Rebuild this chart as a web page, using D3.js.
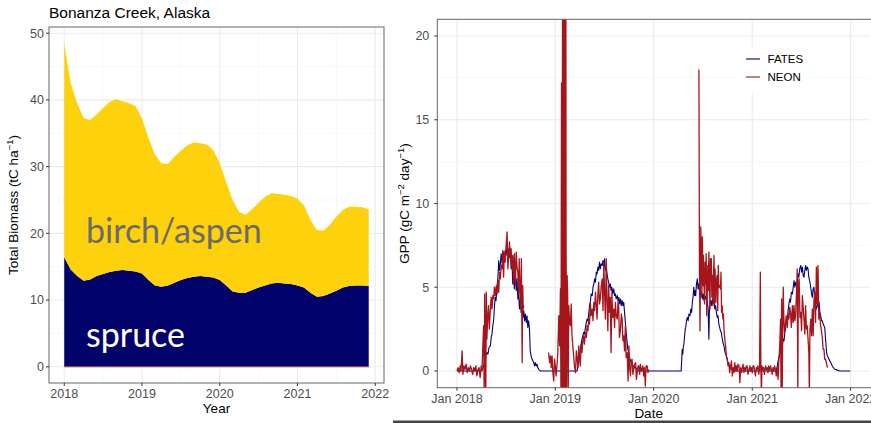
<!DOCTYPE html>
<html>
<head>
<meta charset="utf-8">
<script src="https://cdn.jsdelivr.net/npm/d3@7"></script>
<style>
  body { margin: 0; background: #fff; }
  svg { display: block; font-family: "Liberation Sans", Arial, sans-serif; }
  .grid-major { stroke: #ebebeb; stroke-width: 1.1; }
  .grid-minor { stroke: #f3f3f3; stroke-width: 0.6; }
  .tick-label { fill: #4d4d4d; font-size: 12.5px; }
</style>
</head>
<body>
<svg width="871" height="423"></svg>
<script>
// ---- left panel: monthly biomass, Jan 2018 .. Dec 2021 (tC/ha) ----
const spruceBiomass = [16.4,14.6,13.6,12.9,13.1,13.6,13.9,14.2,14.4,14.5,14.4,14.3,
  14.0,13.0,12.2,12.0,12.2,12.6,13.0,13.3,13.5,13.6,13.5,13.4,
  13.0,12.2,11.3,11.1,11.1,11.5,11.9,12.2,12.5,12.6,12.5,12.4,
  12.2,11.9,11.1,10.5,10.6,11.0,11.4,11.9,12.1,12.2,12.2,12.1];
const birchBiomass = [32.1,27.9,25.9,24.4,23.9,24.2,24.9,25.5,25.7,25.3,25.1,24.8,
  23.2,21.3,19.6,18.5,18.2,18.9,19.4,19.9,20.1,19.9,19.8,19.1,
  17.5,15.5,13.7,12.1,11.7,12.1,12.7,13.3,13.5,13.3,13.3,13.2,
  13.0,12.3,10.9,10.0,9.8,10.3,11.1,11.6,11.9,11.8,11.7,11.5];
const biomassYearTicks = [2018, 2019, 2020, 2021, 2022];
const biomassValueTicks = [0, 10, 20, 30, 40, 50];
const biomassLabels = [
  { text: "birch/aspen", year: 2018.28, value: 18.5, color: "#6b6b6b" },
  { text: "spruce", year: 2018.28, value: 3.0, color: "#ffffff" }
];

// ---- right panel: daily GPP, [day since 2018-01-01, gC m-2 day-1] ----
const fatesGPP = [[0,0],[90,0],[95,0.1],[99,0.3],[103,0.6],[107,0.9],[111,1.1],[115,1.0],[119,1.4],[124,1.5],
  [127,2.0],[130,2.2],[133,2.7],[136,3.0],[139,3.8],[142,4.4],[145,4.2],[149,5.1],[152,5.6],[155,6.6],[158,6.0],
  [161,6.4],[164,7.0],[167,6.5],[170,6.8],[173,7.1],[176,6.6],[179,7.2],[182,6.9],[186,7.4],[189,6.6],[192,7.3],
  [195,6.8],[198,7.2],[201,6.1],[204,6.6],[207,5.2],[210,6.0],[213,4.9],[217,5.8],[220,4.8],[223,5.5],[226,4.3],
  [229,4.6],[232,3.7],[235,4.3],[238,3.5],[242,4.0],[245,3.2],[248,3.6],[251,3.0],[254,3.4],[257,2.9],[260,3.3],
  [263,2.6],[266,3.0],[269,2.5],[272,1.2],[275,0.9],[279,0.7],[282,0.6],[285,0.5],[288,0.3],[291,0.5],[294,0.3],
  [297,0.4],[300,0.2],[303,0.1],[306,0.05],[310,0],
  [446,0],[449,0.3],[452,0.6],[455,0.9],[458,1.3],[461,1.6],[464,1.9],[467,2.1],[470,2.3],[473,2.2],[477,2.6],
  [480,2.9],[483,3.1],[486,3.0],[489,3.4],[492,3.9],[495,4.1],[498,4.6],[502,4.5],[505,5.0],[508,5.2],[511,5.5],
  [514,5.3],[517,5.9],[520,5.8],[523,6.2],[526,6.0],[529,6.5],[532,6.1],[535,6.4],[539,6.3],[542,6.6],[545,6.2],
  [548,6.7],[551,6.0],[554,6.2],[557,5.8],[560,5.5],[563,5.3],[566,5.0],[569,5.2],[572,4.8],[575,5.0],[578,4.6],
  [582,4.9],[585,4.5],[588,4.6],[591,4.3],[595,4.5],[598,4.2],[601,4.4],[604,4.0],[607,4.3],[610,3.9],[613,4.2],
  [616,3.9],[619,4.1],[622,3.5],[625,2.9],[628,2.3],[631,1.8],[634,1.3],[638,1.1],[641,0.8],[644,0.6],[647,0.5],
  [650,0.5],[653,0.3],[656,0.3],[660,0.2],[663,0.2],[667,0.1],[671,0.05],[675,0],
  [832,0],[834,0.6],[836,1.3],[838,1.0],[840,1.4],[842,1.6],[845,2.1],[847,2.5],[849,2.6],[852,3.0],[855,3.2],
  [858,3.0],[861,3.4],[865,3.3],[868,3.7],[871,3.5],[873,4.0],[876,4.4],[879,5.0],[882,4.5],[884,4.8],[886,4.5],
  [889,5.2],[892,5.5],[895,4.9],[898,5.2],[901,4.6],[903,4.9],[905,4.4],[908,4.7],[911,4.3],[914,4.6],[917,4.2],
  [920,4.5],[923,4.3],[926,4.5],[929,4.1],[932,3.8],[935,1.9],[937,3.6],[939,4.0],[942,4.2],[945,3.9],[948,4.3],
  [951,4.0],[954,4.3],[957,3.7],[960,3.9],[963,3.5],[966,3.2],[969,3.3],[972,2.8],[975,2.6],[978,2.4],[981,2.3],
  [984,2.0],[987,1.7],[991,1.5],[994,1.2],[997,1.0],[1000,0.9],[1003,0.7],[1006,0.5],[1009,0.4],[1012,0.3],
  [1016,0.2],[1020,0.1],[1027,0],
  [1185,0],[1189,0.3],[1192,0.6],[1195,0.8],[1198,1.0],[1201,1.2],[1205,1.3],[1208,1.6],[1211,1.9],[1214,1.8],
  [1217,2.3],[1220,2.6],[1223,2.9],[1226,3.0],[1229,3.6],[1232,4.0],[1235,4.3],[1238,4.1],[1241,4.7],[1245,4.6],
  [1248,5.0],[1251,5.4],[1254,5.0],[1257,5.3],[1260,5.1],[1263,5.2],[1266,5.8],[1269,5.6],[1272,6.1],[1276,6.3],
  [1279,5.9],[1282,6.2],[1285,5.7],[1288,5.6],[1291,6.0],[1294,6.3],[1297,6.0],[1300,6.2],[1303,6.1],[1306,5.6],
  [1310,5.3],[1313,5.0],[1316,4.6],[1319,4.4],[1322,4.9],[1325,5.0],[1328,4.3],[1331,4.0],[1334,3.7],[1338,3.9],
  [1341,4.2],[1344,4.1],[1347,3.5],[1350,3.3],[1353,3.0],[1356,3.0],[1359,2.8],[1362,2.7],[1365,2.6],[1368,1.9],
  [1372,1.1],[1375,0.9],[1378,0.8],[1381,0.7],[1384,0.6],[1387,0.5],[1390,0.4],[1393,0.3],[1397,0.2],[1402,0.1],
  [1412,0.05],[1420,0],[1460,0]];

const neonGPP = [[0,0.0],[4,0.2],[8,-0.1],[12,0.3],[15,0.0],[19,1.2],[22,-0.2],[26,0.3],[30,0.1],[34,0.4],
  [38,-0.1],[42,0.2],[46,0.0],[50,0.3],[54,0.1],[58,-0.2],[62,0.2],[66,0.0],[70,0.3],[74,-0.3],[78,0.1],[82,0.2],
  [86,-0.4],[90,0.3],[93,0.0],[96,1.5],[99,2.7],[101,-1.5],[103,4.6],[105,0.5],[107,-1.5],[109,4.7],[111,1.9],
  [114,3.2],[117,3.9],[120,2.5],[124,3.7],[127,4.4],[130,3.7],[133,4.5],[136,4.3],[139,5.0],[142,4.5],[146,5.1],
  [149,4.6],[152,5.4],[155,4.7],[158,5.9],[161,5.5],[164,6.3],[167,6.1],[170,7.2],[173,5.6],[176,7.1],[179,6.5],
  [182,7.4],[186,8.3],[189,6.1],[192,6.9],[195,7.7],[198,6.7],[201,7.3],[204,6.1],[207,6.9],[210,5.2],[213,7.0],
  [217,5.1],[220,7.1],[223,6.2],[226,5.9],[229,4.6],[231,6.7],[233,5.5],[235,4.1],[237,3.8],[239,6.7],[242,0.5],
  [244,5.1],[246,3.7],[248,3.9],
  [290,null],
  [340,1.1],[344,0.5],[347,0.9],[350,0.2],[353,0.9],[356,-0.1],[359,-0.6],[362,0.7],[365,0.3],[368,-0.3],[371,0.3],
  [374,1.0],[378,3.3],[381,1.5],[384,4.9],[386,-1.5],[388,17.2],[390,-1.5],[392,25],[394,-2],[396,30],[398,-2],
  [400,24],[402,-1.8],[404,28],[405,7.6],[407,-1.5],[409,5.7],[411,4.4],[413,-1.2],[415,3.9],[418,2.9],[421,2.7],
  [424,4.0],[427,2.1],[430,1.5],[433,0.9],[436,0.3],[440,-0.1],[443,1.2],[446,0.7],[449,0.2],[452,1.5],[455,0.8],
  [458,0.3],[461,1.6],[464,1.1],[467,1.8],[470,2.1],[473,1.6],[477,2.3],[480,2.0],[483,2.7],[486,2.4],[489,3.1],
  [492,2.8],[495,4.1],[498,3.3],[502,3.7],[505,3.0],[508,4.1],[511,3.6],[514,4.7],[517,4.0],[520,3.1],[523,4.6],
  [526,5.3],[529,4.0],[532,4.3],[535,5.0],[539,5.5],[542,3.6],[545,6.5],[548,4.6],[551,3.1],[554,6.7],[557,4.3],
  [560,2.4],[563,5.1],[566,3.5],[569,4.4],[572,1.1],[575,4.7],[578,3.2],[582,3.7],[585,2.6],[588,4.1],[591,3.3],
  [595,3.1],[598,4.2],[600,3.9],[603,2.0],[607,2.5],[610,3.4],[613,3.1],[616,1.8],[619,2.1],[622,1.2],[625,2.7],
  [628,0.8],[632,1.1],[635,-0.6],[638,1.5],[641,0.2],[644,-0.3],[647,0.6],[650,0.7],[653,-0.2],[656,0.1],[659,0.4],
  [663,0.5],[666,-0.5],[669,-0.1],[672,0.3],[675,0.3],[678,-0.2],[681,0.4],[684,0.0],[687,0.1],[690,0.3],
  [693,-0.3],[696,0.2],[699,-0.9],[702,0.3],[706,0.3],[709,-0.1],[712,0.1],
  [800,null],
  [898,18.0],[900,6.1],[902,2.4],[905,8.6],[907,7.1],[909,4.5],[911,8.0],[913,5.1],[915,6.9],[917,5.1],[919,4.0],
  [921,6.5],[923,5.2],[925,7.0],[927,3.3],[929,4.5],[931,6.3],[933,4.8],[935,7.1],[937,5.4],[939,3.7],[941,6.7],
  [944,6.7],[946,4.4],[948,5.7],[950,3.9],[952,5.7],[954,6.9],[956,4.0],[958,6.1],[961,4.1],[963,5.5],[966,5.7],
  [968,3.6],[970,6.3],[972,5.0],[975,5.1],[978,4.9],[980,5.9],[982,3.5],[984,3.9],[987,3.1],[989,3.4],[991,2.5],
  [994,1.9],[997,1.5],[1000,0.9],[1003,0.7],[1006,0.3],[1009,0.5],[1012,-0.1],[1016,0.3],[1019,0.6],[1022,-0.3],
  [1025,0.2],[1028,-0.1],[1031,0.5],[1034,0.0],[1037,0.3],[1040,0.0],[1043,0.4],[1047,0.3],[1050,-0.7],[1053,0.2],
  [1056,-0.1],[1059,0.2],[1062,0.4],[1065,-0.1],[1068,0.2],[1071,0.0],[1074,0.3],[1077,0.3],[1080,-0.2],[1084,0.1],
  [1087,0.3],[1090,0.0],[1093,0.2],[1096,-0.1],[1099,0.3],[1102,0.3],[1105,0.0],[1108,-0.3],[1111,0.2],[1114,0.1],
  [1117,0.3],[1120,-0.2],[1123,0.1],[1126,5.9],[1128,0.2],[1130,-1.5],[1132,0.3],[1135,0.1],[1138,0.2],[1141,-0.2],
  [1145,0.3],[1148,0.1],[1151,0.2],[1154,-0.1],[1157,0.3],[1160,0.0],[1164,0.3],[1167,0.1],[1170,-0.2],[1173,0.2],
  [1176,0.0],[1179,0.3],[1182,0.1],[1185,-0.3],[1189,0.2],[1192,-0.5],[1195,0.7],[1198,1.5],[1201,3.1],[1203,-1.5],
  [1205,4.3],[1207,-1.5],[1209,2.1],[1211,5.0],[1213,3.3],[1216,2.3],[1219,2.7],[1222,3.3],[1226,2.6],[1229,3.4],
  [1232,3.1],[1235,3.8],[1238,3.5],[1241,2.6],[1245,3.9],[1248,2.9],[1251,3.9],[1254,3.0],[1257,3.3],[1260,4.6],
  [1263,6.1],[1265,-1.5],[1267,5.2],[1270,5.5],[1273,3.2],[1276,3.5],[1279,2.4],[1282,4.5],[1285,3.8],[1288,3.1],
  [1291,2.2],[1294,3.9],[1297,2.5],[1300,2.7],[1303,1.9],[1306,1.1],[1308,-1.5],[1310,2.4],[1313,3.1],[1316,2.1],
  [1319,3.7],[1322,2.1],[1325,4.2],[1328,4.7],[1331,2.9],[1334,6.2],[1337,4.0],[1340,6.3],[1343,3.1],[1346,3.5],
  [1349,2.8],[1352,2.5],[1356,2.0],[1359,1.3],[1362,1.3],[1365,0.7],[1368,0.7],[1371,0.5],[1375,0.2]];
const gppValueTicks = [0, 5, 10, 15, 20];
const gppSeries = [
  { name: "FATES", data: fatesGPP, color: "#00007f", width: 1.1 },
  { name: "NEON", data: neonGPP, color: "#a6141c", width: 1.3 }
];

const svg = d3.select("svg");

function supLabel(sel, before, sup1, mid, sup2, after) {
  sel.append("tspan").text(before);
  sel.append("tspan").attr("dy", -5).attr("font-size", "0.7em").text(sup1);
  sel.append("tspan").attr("dy", 5).text(mid);
  if (sup2) {
    sel.append("tspan").attr("dy", -5).attr("font-size", "0.7em").text(sup2);
    sel.append("tspan").attr("dy", 5).text(after);
  }
}

/***** LEFT PANEL *****/
const L = { x0: 49, x1: 384, y0: 27, y1: 383 };
const xL = d3.scaleLinear().domain([2017.804, 2022.113]).range([L.x0, L.x1]);
const yL = d3.scaleLinear().domain([-2.43, 50.93]).range([L.y1, L.y0]);

const gL = svg.append("g");
gL.append("defs").append("clipPath").attr("id", "clipL")
  .append("rect").attr("x", L.x0).attr("y", L.y0).attr("width", L.x1 - L.x0).attr("height", L.y1 - L.y0);

// grid
gL.selectAll(".gmv").data([2018.5, 2019.5, 2020.5, 2021.5]).join("line").attr("class", "grid-minor")
  .attr("x1", d => xL(d)).attr("x2", d => xL(d)).attr("y1", L.y0).attr("y2", L.y1);
gL.selectAll(".gmh").data([5, 15, 25, 35, 45]).join("line").attr("class", "grid-minor")
  .attr("x1", L.x0).attr("x2", L.x1).attr("y1", d => yL(d)).attr("y2", d => yL(d));
gL.selectAll(".gMv").data(biomassYearTicks).join("line").attr("class", "grid-major")
  .attr("x1", d => xL(d)).attr("x2", d => xL(d)).attr("y1", L.y0).attr("y2", L.y1);
gL.selectAll(".gMh").data(biomassValueTicks).join("line").attr("class", "grid-major")
  .attr("x1", L.x0).attr("x2", L.x1).attr("y1", d => yL(d)).attr("y2", d => yL(d));

// stacked areas
const monthly = spruceBiomass.map((s, i) => ({ year: 2018 + i / 12, spruce: s, birch: birchBiomass[i] }));
const stack = d3.stack().keys(["spruce", "birch"])(monthly);
const area = d3.area().x(d => xL(d.data.year)).y0(d => yL(d[0])).y1(d => yL(d[1]));
const areaColors = { spruce: "#02026b", birch: "#fdd10b" };
const areas = gL.append("g").attr("clip-path", "url(#clipL)");
areas.selectAll("path").data(stack).join("path")
  .attr("d", area).attr("fill", d => areaColors[d.key]);
areas.append("path")
  .attr("d", d3.line().x(d => xL(d.data.year)).y(d => yL(d[0]))(stack[0]))
  .attr("fill", "none").attr("stroke", "#b4472c").attr("stroke-width", 1);

gL.selectAll(".blab").data(biomassLabels).join("text")
  .attr("x", d => xL(d.year)).attr("y", d => yL(d.value))
  .attr("fill", d => d.color).attr("font-family", "Lato, 'Open Sans', sans-serif").attr("font-size", 34)
  .text(d => d.text);

// border + axes
gL.append("rect").attr("x", L.x0).attr("y", L.y0).attr("width", L.x1 - L.x0).attr("height", L.y1 - L.y0)
  .attr("fill", "none").attr("stroke", "#666").attr("stroke-width", 1);
gL.selectAll(".ytk").data(biomassValueTicks).join("line")
  .attr("x1", L.x0 - 3).attr("x2", L.x0).attr("y1", d => yL(d)).attr("y2", d => yL(d)).attr("stroke", "#333");
gL.selectAll(".ylb").data(biomassValueTicks).join("text").attr("class", "tick-label")
  .attr("x", L.x0 - 5).attr("y", d => yL(d)).attr("dy", "0.35em").attr("text-anchor", "end").text(d => d);
gL.selectAll(".xtk").data(biomassYearTicks).join("line")
  .attr("x1", d => xL(d)).attr("x2", d => xL(d)).attr("y1", L.y1).attr("y2", L.y1 + 3).attr("stroke", "#333");
gL.selectAll(".xlb").data(biomassYearTicks).join("text").attr("class", "tick-label")
  .attr("x", d => xL(d)).attr("y", 398).attr("text-anchor", "middle").text(d => d);

gL.append("text").attr("x", L.x0).attr("y", 18).attr("font-size", 15.5).text("Bonanza Creek, Alaska");
gL.append("text").attr("x", (L.x0 + L.x1) / 2).attr("y", 413).attr("text-anchor", "middle")
  .attr("font-size", 13.5).text("Year");
gL.append("text").attr("transform", `translate(18,${(L.y0 + L.y1) / 2}) rotate(-90)`)
  .attr("text-anchor", "middle").attr("font-size", 13.5)
  .call(supLabel, "Total Biomass (tC ha", "\u22121", ")");

/***** RIGHT PANEL *****/
const R = { x0: 437.3, x1: 870, y0: 19.3, y1: 387.7 };
const day0 = Date.UTC(2018, 0, 1);
const toDate = d => d3.utcDay.offset(new Date(day0), d);
const xR = d3.scaleUtc().domain([toDate(-73), toDate(1533)]).range([R.x0, R.x1]);
const yR = d3.scaleLinear().domain([-1, 21]).range([R.y1, R.y0]);
const yearTicks = d3.utcYear.range(toDate(0), toDate(1462));
const midYears = d3.utcMonth.every(12).range(toDate(181), toDate(1461));

const gR = svg.append("g");
gR.append("defs").append("clipPath").attr("id", "clipR")
  .append("rect").attr("x", R.x0).attr("y", R.y0).attr("width", R.x1 - R.x0).attr("height", R.y1 - R.y0);

gR.selectAll(".gmv").data(midYears).join("line").attr("class", "grid-minor")
  .attr("x1", d => xR(d)).attr("x2", d => xR(d)).attr("y1", R.y0).attr("y2", R.y1);
gR.selectAll(".gmh").data([2.5, 7.5, 12.5, 17.5]).join("line").attr("class", "grid-minor")
  .attr("x1", R.x0).attr("x2", R.x1).attr("y1", d => yR(d)).attr("y2", d => yR(d));
gR.selectAll(".gMv").data(yearTicks).join("line").attr("class", "grid-major")
  .attr("x1", d => xR(d)).attr("x2", d => xR(d)).attr("y1", R.y0).attr("y2", R.y1);
gR.selectAll(".gMh").data(gppValueTicks).join("line").attr("class", "grid-major")
  .attr("x1", R.x0).attr("x2", R.x1).attr("y1", d => yR(d)).attr("y2", d => yR(d));

const gppLine = d3.line().defined(d => d[1] !== null)
  .x(d => xR(toDate(d[0]))).y(d => yR(d[1]));
gR.append("g").attr("clip-path", "url(#clipR)")
  .selectAll("path").data(gppSeries).join("path")
  .attr("d", d => gppLine(d.data)).attr("fill", "none")
  .attr("stroke", d => d.color).attr("stroke-width", d => d.width).attr("stroke-linejoin", "round");

// legend
const lg = gR.append("g").attr("transform", "translate(741,47)");
lg.append("rect").attr("width", 68).attr("height", 46).attr("fill", "#fff");
const lgRow = lg.selectAll("g").data(gppSeries).join("g").attr("transform", (d, i) => `translate(0,${12 + i * 18})`);
lgRow.append("line").attr("x1", 5).attr("x2", 19).attr("stroke", d => d.color).attr("stroke-width", 1.1);
lgRow.append("text").attr("x", 26.5).attr("dy", "0.36em").attr("font-size", 11.5).text(d => d.name);

gR.append("rect").attr("x", R.x0).attr("y", R.y0).attr("width", R.x1 - R.x0 + 2).attr("height", R.y1 - R.y0)
  .attr("fill", "none").attr("stroke", "#666").attr("stroke-width", 1);
gR.selectAll(".ytk").data(gppValueTicks).join("line")
  .attr("x1", R.x0 - 3).attr("x2", R.x0).attr("y1", d => yR(d)).attr("y2", d => yR(d)).attr("stroke", "#333");
gR.selectAll(".ylb").data(gppValueTicks).join("text").attr("class", "tick-label")
  .attr("x", R.x0 - 8).attr("y", d => yR(d)).attr("dy", "0.35em").attr("text-anchor", "end").text(d => d);
gR.selectAll(".xtk").data(yearTicks).join("line")
  .attr("x1", d => xR(d)).attr("x2", d => xR(d)).attr("y1", R.y1).attr("y2", R.y1 + 3).attr("stroke", "#333");
gR.selectAll(".xlb").data(yearTicks).join("text").attr("class", "tick-label")
  .attr("x", d => xR(d)).attr("y", 403).attr("text-anchor", "middle").text(d3.utcFormat("%b %Y"));

gR.append("text").attr("x", (R.x0 + 860) / 2).attr("y", 418).attr("text-anchor", "middle")
  .attr("font-size", 13.5).text("Date");
gR.append("text").attr("transform", `translate(409,${(R.y0 + R.y1) / 2}) rotate(-90)`)
  .attr("text-anchor", "middle").attr("font-size", 13.5)
  .call(supLabel, "GPP (gC m", "\u22122", " day", "\u22121", ")");

svg.append("rect").attr("x", 393).attr("y", 420.5).attr("width", 478).attr("height", 3).attr("fill", "#444");
</script>
</body>
</html>
